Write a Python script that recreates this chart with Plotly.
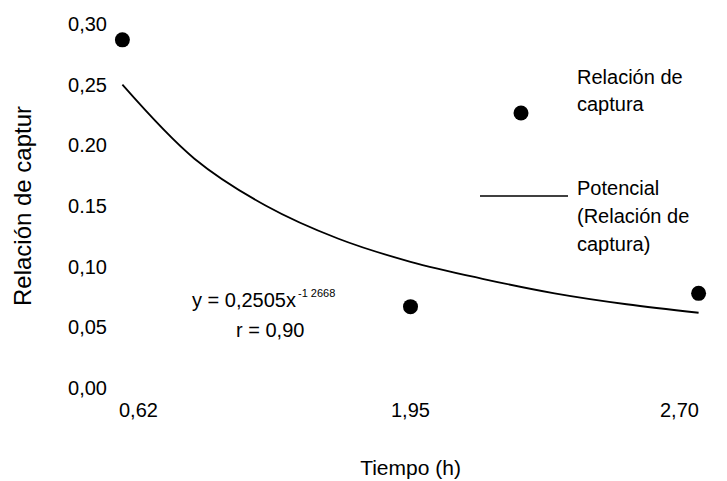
import plotly.graph_objects as go

# Data (x as category positions 1..3, labelled with time values)
x_pos = [1, 2, 3]
x_labels = ["0,62", "1,95", "2,70"]
captura = [0.287, 0.067, 0.078]

# Trend curve
curve_x = [1.0, 1.25, 1.5, 1.75, 2.0, 2.25, 2.5, 2.75, 3.0]
curve_y = [0.250, 0.189, 0.150, 0.123, 0.104, 0.090, 0.078, 0.069, 0.062]

y_ticks = [0.00, 0.05, 0.10, 0.15, 0.20, 0.25, 0.30]
y_ticktext = ["0,00", "0,05", "0,10", "0.15", "0.20", "0,25", "0,30"]

FONT = "Liberation Sans, Arial, sans-serif"
FS = 20
W, H = 727, 481
L, R, T, B = 108, 14, 18, 87
PW, PH = W - L - R, H - T - B


def px(xp):
    return (xp - L) / PW


def py(yp):
    return 1 - (yp - T) / PH


fig = go.Figure()
fig.add_trace(go.Scatter(x=curve_x, y=curve_y, mode="lines", line=dict(color="black", width=1.8, shape="spline"),
                         name="Potencial (Relación de captura)", showlegend=False, hoverinfo="skip"))
fig.add_trace(go.Scatter(x=x_pos, y=captura, mode="markers", marker=dict(color="black", size=15),
                         name="Relación de captura", showlegend=False))

fig.update_layout(
    width=W, height=H,
    margin=dict(l=L, r=R, t=T, b=B, autoexpand=False),
    paper_bgcolor="white", plot_bgcolor="white",
    font=dict(family=FONT, size=FS, color="black"),
    xaxis=dict(range=[0.95, 3.05], showticklabels=False, showgrid=False, zeroline=False,
               showline=False, ticks="", automargin=False,
               title=dict(text="Tiempo (h)", standoff=66, font=dict(size=21))),
    yaxis=dict(range=[-0.005, 0.305], tickvals=y_ticks, ticktext=y_ticktext, showgrid=False, zeroline=False,
               showline=False, ticks="", automargin=False, tickfont=dict(size=FS),
               title=dict(text="Relación de captur", standoff=29, font=dict(size=24))),
)

# X tick labels (offset like the reference)
shifts = [16, 0, -19]
for xv, lab, sh in zip(x_pos, x_labels, shifts):
    fig.add_annotation(x=xv, xref="x", y=py(410), yref="paper", text=lab, showarrow=False,
                       xanchor="center", yanchor="middle", xshift=sh, font=dict(size=FS))

# Legend drawn manually
fig.add_shape(type="circle", xref="paper", yref="paper", layer="above",
              x0=px(521 - 7.5), x1=px(521 + 7.5), y0=py(113 + 7.5), y1=py(113 - 7.5),
              fillcolor="black", line=dict(color="black", width=0))
for i, t in enumerate(["Relación de", "captura"]):
    fig.add_annotation(xref="paper", yref="paper", x=px(575), y=py(77 + 27 * i), xanchor="left",
                       yanchor="middle", showarrow=False, text=t, font=dict(size=FS))
fig.add_shape(type="line", xref="paper", yref="paper", x0=px(480), x1=px(568), y0=py(196), y1=py(196),
              line=dict(color="black", width=1.6))
for i, t in enumerate(["Potencial", "(Relación de", "captura)"]):
    fig.add_annotation(xref="paper", yref="paper", x=px(575), y=py(188 + 28 * i), xanchor="left",
                       yanchor="middle", showarrow=False, text=t, font=dict(size=FS))

# Equation
fig.add_annotation(x=px(190), y=py(300), xref="paper", yref="paper", showarrow=False, xanchor="left",
                   yanchor="middle", text="y = 0,2505x", font=dict(size=FS))
fig.add_annotation(x=px(296), y=py(293), xref="paper", yref="paper", showarrow=False, xanchor="left",
                   yanchor="middle", text="-1 2668", font=dict(size=11))
fig.add_annotation(x=px(270), y=py(330), xref="paper", yref="paper", showarrow=False, xanchor="center",
                   yanchor="middle", text="r = 0,90", font=dict(size=FS))

fig.write_html("out.html", config={"displayModeBar": False},
               post_script="document.body.style.margin='0';")
